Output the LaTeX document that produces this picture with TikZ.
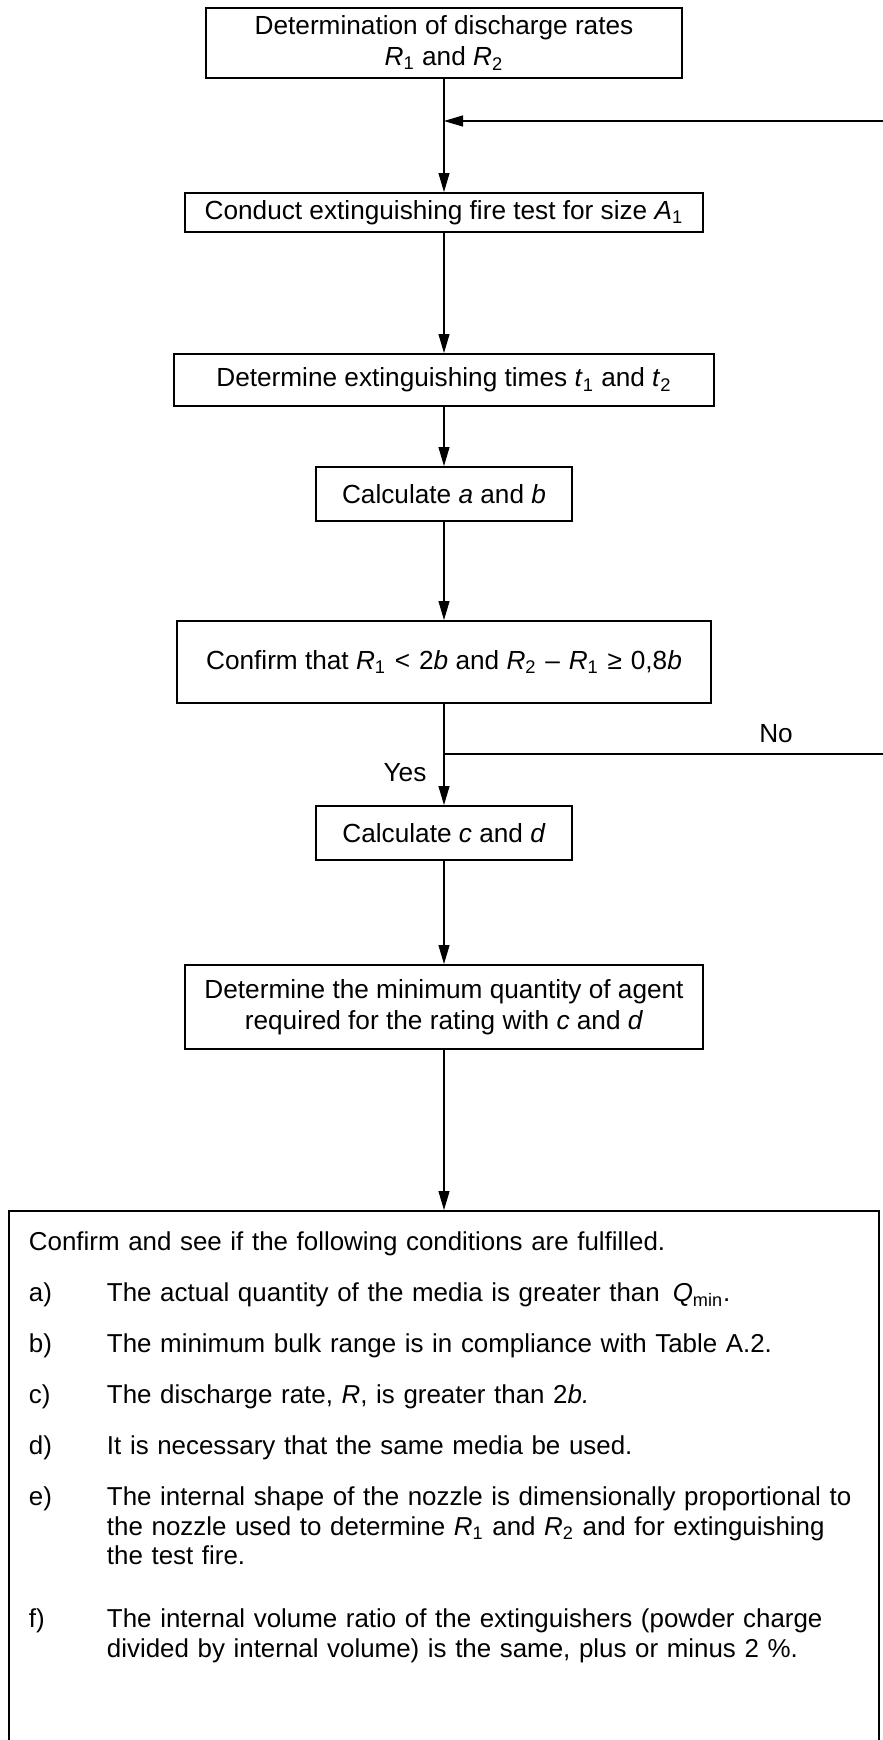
\documentclass[tikz,border=0pt]{standalone}
\usepackage{fontspec}
\setmainfont{Liberation Sans}
\usetikzlibrary{arrows.meta}
\newcommand{\vsb}[2]{\textit{#1}\textsubscript{#2}}
\newcommand{\opsp}{\hspace{4.4pt}}
\newcommand{\condItem}[3][10.8pt]{\par\vspace{#1}\noindent\hangindent=39pt\hangafter=1\makebox[39pt][l]{#2}#3}
\begin{document}
\begin{tikzpicture}[line width=0.6pt,>={Triangle[length=9.5pt,width=5.5pt]},
  every node/.style={font=\fontsize{13.1pt}{15.3pt}\selectfont},
  stepbox/.style={draw,line width=1pt,inner sep=2pt,align=center}]
\node[stepbox,minimum width=237.5pt,minimum height=35pt](NS1){Determination of discharge rates\\\vsb{R}{1} and \vsb{R}{2}};
\node[stepbox,node distance=84.75pt,below of = NS1,minimum width=259pt,minimum height=19.5pt](NS2){Conduct extinguishing fire test for size \vsb{A}{1}};
\node[stepbox,node distance=83.75pt,below of = NS2,minimum width=269.5pt,minimum height=26pt](NS3){Determine extinguishing times \vsb{t}{1} and \vsb{t}{2}};
\node[stepbox,node distance=57pt,below of = NS3,minimum width=127.5pt,minimum height=27pt](NS4){Calculate \textit{a} and \textit{b}};
\node[stepbox,node distance=84pt,below of = NS4,minimum width=266.5pt,minimum height=41pt](NS5){Confirm that \vsb{R}{1}\opsp<\opsp2\textit{b} and \vsb{R}{2}\opsp–\opsp\vsb{R}{1}\opsp≥\opsp0,8\textit{b}};
\node[stepbox,node distance=85.5pt,below of = NS5,minimum width=127.5pt,minimum height=27pt](NS6){Calculate \textit{c} and \textit{d}};
\node[stepbox,node distance=87pt,below of = NS6,minimum width=258.5pt,minimum height=42pt](NS7){Determine the minimum quantity of agent\\required for the rating with \textit{c} and \textit{d}};
\node[draw,line width=1.1pt,node distance=101.5pt,below of = NS7,anchor=north,text width=415pt,inner xsep=10pt,inner ysep=10.5pt,align=left,
  font=\fontsize{12.95pt}{14.7pt}\selectfont](NS8){%
Confirm and see if the following conditions are fulfilled.
\condItem{a)}{The actual quantity of the media is greater than \,\textit{Q}\textsubscript{min}.}
\condItem{b)}{The minimum bulk range is in compliance with Table A.2.}
\condItem{c)}{The discharge rate, \textit{R}, is greater than 2\textit{b.}}
\condItem{d)}{It is necessary that the same media be used.}
\condItem{e)}{The internal shape of the nozzle is dimensionally proportional to\newline the nozzle used to determine \vsb{R}{1} and \vsb{R}{2} and for extinguishing\newline the test fire.}
\condItem[16.9pt]{f)}{The internal volume ratio of the extinguishers (powder charge\newline divided by internal volume) is the same, plus or minus 2~\%.}
\par\vspace{60pt}\mbox{}};
\coordinate[node distance=39pt,below of = NS1](FbJ);
\coordinate[node distance=46pt,below of = NS5](NoJ);
\coordinate[node distance=230pt,right of = NoJ](FbR);
\node[node distance=166pt,right of = NoJ,yshift=10pt](LNo){No};
\node[node distance=19.5pt,left of = NoJ,yshift=-9.5pt](LYes){Yes};
\draw[->] (NS1) -- (NS2);
\draw[->] (NS2) -- (NS3);
\draw[->] (NS3) -- (NS4);
\draw[->] (NS4) -- (NS5);
\draw[->] (NS5) -- (NS6);
\draw[->] (NS6) -- (NS7);
\draw[->] (NS7) -- (NS8);
\draw[->] (NoJ) -- (FbR) |- (FbJ);
\pgfresetboundingbox
\path[use as bounding box] ([xshift=-222pt,yshift=21.5pt]NS1.center) rectangle ([xshift=219.5pt,yshift=-848.5pt]NS1.center);
\end{tikzpicture}
\end{document}
